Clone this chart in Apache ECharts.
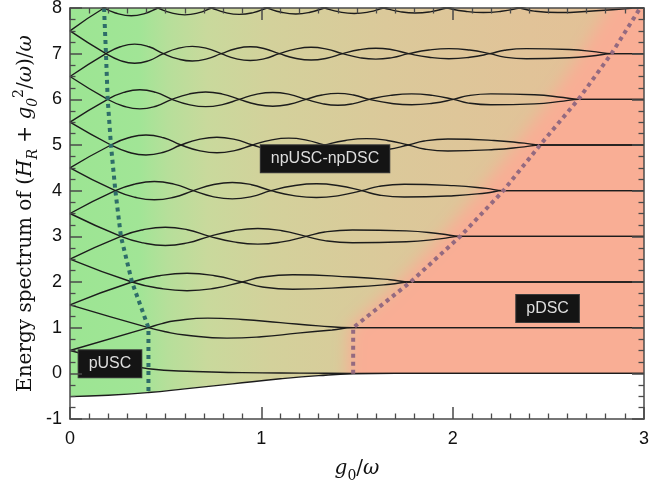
<!DOCTYPE html>
<html>
<head>
<meta charset="utf-8">
<script src="https://cdn.jsdelivr.net/npm/echarts@6/dist/echarts.min.js"></script>
<style>
html, body { margin: 0; padding: 0; background: #fff; }
#main { width: 671px; height: 487px; }
</style>
</head>
<body>
<div id="main"></div>
<script>
// energy levels, points are [g0/ω, E/ω]
const ground = [[0, -0.51], [0.2, -0.48], [0.41, -0.42], [0.6, -0.34], [0.85, -0.23], [1.1, -0.12], [1.3, -0.05], [1.48, -0.01], [1.7, 0], [3, 0]]
const level0 = [[0, 0.5], [0.2, 0.29], [0.41, 0.1], [0.65, 0.04], [0.9, 0.015], [1.2, 0.004], [1.48, 0], [3, 0]]

const level1a = [[0, 1.5], [0.41, 1], [0.5, 0.91], [0.6, 0.84], [0.82, 0.77], [1.0, 0.8], [1.19, 0.88], [1.37, 0.95], [1.48, 1], [3, 1]]
const level1b = [[0, 0.5], [0.41, 1], [0.48, 1.09], [0.55, 1.15], [0.72, 1.21], [0.9, 1.18], [1.1, 1.11], [1.3, 1.04], [1.48, 1], [3, 1]]

const level2a = [[0, 2.5], [0.324, 2], [0.468, 1.863], [0.612, 1.81], [0.756, 1.863], [0.9, 2], [1.006, 2.11], [1.164, 2.16], [1.472, 2.11], [1.674, 2.05], [1.78, 2], [3, 2]]
const level2b = [[0, 1.5], [0.324, 2], [0.468, 2.137], [0.612, 2.19], [0.756, 2.137], [0.9, 2], [1.006, 1.89], [1.164, 1.84], [1.472, 1.89], [1.674, 1.95], [1.78, 2], [3, 2]]

const level3a = [[0, 3.5], [0.266, 3], [0.382, 2.856], [0.498, 2.8], [0.614, 2.856], [0.73, 3], [0.856, 3.122], [0.982, 3.17], [1.108, 3.122], [1.234, 3], [1.331, 2.905], [1.476, 2.86], [1.758, 2.88], [1.943, 2.95], [2.04, 3], [3, 3]]
const level3b = [[0, 2.5], [0.266, 3], [0.382, 3.144], [0.498, 3.2], [0.614, 3.144], [0.73, 3], [0.856, 2.878], [0.982, 2.83], [1.108, 2.878], [1.234, 3], [1.331, 3.095], [1.476, 3.14], [1.758, 3.12], [1.943, 3.05], [2.04, 3], [3, 3]]

const level4a = [[0, 4.5], [0.237, 4], [0.339, 3.856], [0.441, 3.8], [0.543, 3.856], [0.645, 4], [0.746, 4.13], [0.848, 4.18], [0.949, 4.13], [1.05, 4], [1.169, 3.892], [1.288, 3.85], [1.406, 3.892], [1.525, 4], [1.614, 4.095], [1.747, 4.14], [2.006, 4.11], [2.176, 4.05], [2.265, 4], [3, 4]]
const level4b = [[0, 3.5], [0.237, 4], [0.339, 4.144], [0.441, 4.2], [0.543, 4.144], [0.645, 4], [0.746, 3.87], [0.848, 3.82], [0.949, 3.87], [1.05, 4], [1.169, 4.108], [1.288, 4.15], [1.406, 4.108], [1.525, 4], [1.614, 3.905], [1.747, 3.86], [2.006, 3.89], [2.176, 3.95], [2.265, 4], [3, 4]]

const level5a = [[0, 5.5], [0.214, 5], [0.306, 4.842], [0.397, 4.78], [0.489, 4.842], [0.58, 5], [0.674, 5.122], [0.768, 5.17], [0.861, 5.122], [0.955, 5], [1.049, 4.892], [1.143, 4.85], [1.236, 4.892], [1.33, 5], [1.44, 5.1], [1.549, 5.14], [1.659, 5.1], [1.768, 5], [1.851, 4.912], [1.975, 4.87], [2.216, 4.9], [2.374, 4.96], [2.457, 5], [3, 5]]
const level5b = [[0, 4.5], [0.214, 5], [0.306, 5.158], [0.397, 5.22], [0.489, 5.158], [0.58, 5], [0.674, 4.878], [0.768, 4.83], [0.861, 4.878], [0.955, 5], [1.049, 5.108], [1.143, 5.15], [1.236, 5.108], [1.33, 5], [1.44, 4.9], [1.549, 4.86], [1.659, 4.9], [1.768, 5], [1.851, 5.088], [1.975, 5.13], [2.216, 5.1], [2.374, 5.04], [2.457, 5], [3, 5]]

const level6a = [[0, 6.5], [0.197, 6], [0.281, 5.849], [0.365, 5.79], [0.449, 5.849], [0.533, 6], [0.621, 6.115], [0.709, 6.16], [0.797, 6.115], [0.885, 6], [0.972, 5.892], [1.06, 5.85], [1.147, 5.892], [1.234, 6], [1.317, 6.094], [1.4, 6.13], [1.482, 6.094], [1.565, 6], [1.675, 5.914], [1.785, 5.88], [1.895, 5.914], [2.004, 6], [2.082, 6.082], [2.2, 6.12], [2.428, 6.1], [2.579, 6.04], [2.657, 6], [3, 6]]
const level6b = [[0, 5.5], [0.197, 6], [0.281, 6.151], [0.365, 6.21], [0.449, 6.151], [0.533, 6], [0.621, 5.885], [0.709, 5.84], [0.797, 5.885], [0.885, 6], [0.972, 6.108], [1.06, 6.15], [1.147, 6.108], [1.234, 6], [1.317, 5.906], [1.4, 5.87], [1.482, 5.906], [1.565, 6], [1.675, 6.086], [1.785, 6.12], [1.895, 6.086], [2.004, 6], [2.082, 5.918], [2.2, 5.88], [2.428, 5.9], [2.579, 5.96], [2.657, 6], [3, 6]]

const level7a = [[0, 7.5], [0.188, 7], [0.263, 6.849], [0.338, 6.79], [0.413, 6.849], [0.488, 7], [0.564, 7.115], [0.639, 7.16], [0.715, 7.115], [0.79, 7], [0.866, 6.892], [0.942, 6.85], [1.018, 6.892], [1.094, 7], [1.177, 7.1], [1.26, 7.14], [1.342, 7.1], [1.425, 7], [1.511, 6.914], [1.598, 6.88], [1.684, 6.914], [1.77, 7], [1.876, 7.079], [1.98, 7.11], [2.089, 7.079], [2.195, 7], [2.271, 6.925], [2.385, 6.89], [2.61, 6.91], [2.75, 6.96], [2.83, 7], [3, 7]]
const level7b = [[0, 6.5], [0.188, 7], [0.263, 7.151], [0.338, 7.21], [0.413, 7.151], [0.488, 7], [0.564, 6.885], [0.639, 6.84], [0.715, 6.885], [0.79, 7], [0.866, 7.108], [0.942, 7.15], [1.018, 7.108], [1.094, 7], [1.177, 6.9], [1.26, 6.86], [1.342, 6.9], [1.425, 7], [1.511, 7.086], [1.598, 7.12], [1.684, 7.086], [1.77, 7], [1.876, 6.921], [1.98, 6.89], [2.089, 6.921], [2.195, 7], [2.271, 7.075], [2.385, 7.11], [2.61, 7.09], [2.75, 7.04], [2.83, 7], [3, 7]]

const level8a = [[0, 8.5], [0.178, 8], [0.249, 7.878], [0.32, 7.83], [0.39, 7.878], [0.46, 8], [0.53, 8.108], [0.6, 8.15], [0.67, 8.108], [0.74, 8], [0.813, 7.899], [0.885, 7.86], [0.958, 7.899], [1.03, 8], [1.105, 8.094], [1.18, 8.13], [1.255, 8.094], [1.33, 8], [1.408, 7.914], [1.485, 7.88], [1.563, 7.914], [1.64, 8], [1.723, 8.079], [1.805, 8.11], [1.888, 8.079], [1.97, 8], [2.065, 7.928], [2.16, 7.9], [2.255, 7.928], [2.35, 8], [2.426, 8.068], [2.55, 8.1], [2.75, 8.06], [2.9, 8.02], [2.98, 8], [3, 8]]
const level8b = [[0, 7.5], [0.178, 8], [0.249, 8.122], [0.32, 8.17], [0.39, 8.122], [0.46, 8], [0.53, 7.892], [0.6, 7.85], [0.67, 7.892], [0.74, 8], [0.813, 8.101], [0.885, 8.14], [0.958, 8.101], [1.03, 8], [1.105, 7.906], [1.18, 7.87], [1.255, 7.906], [1.33, 8], [1.408, 8.086], [1.485, 8.12], [1.563, 8.086], [1.64, 8], [1.723, 7.921], [1.805, 7.89], [1.888, 7.921], [1.97, 8], [2.065, 8.072], [2.16, 8.1], [2.255, 8.072], [2.35, 8], [2.426, 7.932], [2.55, 7.9], [2.75, 7.94], [2.9, 7.98], [2.98, 8], [3, 8]]

// phase borders (dotted) and the edge of the pDSC shading
const uscBorder = [[0.178, 8], [0.188, 7], [0.197, 6], [0.214, 5], [0.237, 4], [0.266, 3], [0.324, 2], [0.41, 1], [0.41, -0.42]]
const dscBorder = [[1.48, -0.01], [1.48, 1], [1.78, 2], [2.04, 3], [2.265, 4], [2.457, 5], [2.657, 6], [2.83, 7], [2.98, 8]]
const dscShade = [[1.45, -1.6], [1.45, 0], [1.46, 1], [1.72, 2], [1.94, 3], [2.14, 4], [2.33, 5], [2.51, 6], [2.67, 7], [2.81, 8], [2.93, 8.8], [3.6, 8.8], [3.6, -1.6]]

// region tags
const tags = [[0.209, 0.21, 'pUSC'], [1.333, 4.70, 'npUSC-npDSC'], [2.496, 1.42, 'pDSC']]

const levels = [level0, level1a, level1b, level2a, level2b, level3a, level3b, level4a, level4b,
  level5a, level5b, level6a, level6b, level7a, level7b, level8a, level8b]

const salmon = '#f9ae95'
const axisColor = '#4a4a4a'

let myChart = echarts.init(document.getElementById('main'), null, { renderer: 'canvas' })

function frameAxis(pos, isX) {
  return {
    type: 'value',
    position: pos,
    min: isX ? 0 : -1,
    max: isX ? 3 : 8,
    interval: 1,
    z: 10,
    axisLine: { show: true, onZero: false, lineStyle: { color: axisColor, width: 1.5 } },
    axisTick: { show: true, inside: true, length: 12, lineStyle: { color: axisColor, width: 1.5 } },
    minorTick: { show: true, splitNumber: isX ? 10 : 4, length: 5.5, lineStyle: { color: axisColor, width: 1.3 } },
    splitLine: { show: false },
    minorSplitLine: { show: false },
    axisLabel: { show: false }
  }
}

let xBottom = frameAxis('bottom', true)
xBottom.axisLabel = { show: true, fontFamily: 'Liberation Sans', fontSize: 18, color: '#111', margin: 11 }
xBottom.name = '{i|g}{s|0}/{i|ω}'
xBottom.nameLocation = 'middle'
xBottom.nameGap = 36
xBottom.nameMoveOverlap = false
xBottom.nameTextStyle = {
  fontFamily: 'DejaVu Serif', fontSize: 20, color: '#111', lineHeight: 28,
  rich: {
    i: { fontFamily: 'DejaVu Serif', fontStyle: 'italic', fontSize: 20, lineHeight: 28, color: '#111' },
    s: { fontFamily: 'DejaVu Serif', fontSize: 14, lineHeight: 14, verticalAlign: 'bottom', color: '#111' }
  }
}

let yLeft = frameAxis('left', false)
yLeft.axisLabel = { show: true, fontFamily: 'Liberation Sans', fontSize: 18, color: '#111', margin: 8 }
yLeft.name = 'Energy spectrum of ({i|H}{s|R} + {i|g}{s|0}{p|2}/{i|ω})/{i|ω}'
yLeft.nameLocation = 'middle'
yLeft.nameGap = 30
yLeft.nameMoveOverlap = false
yLeft.nameTextStyle = {
  fontFamily: 'DejaVu Serif', fontSize: 20, color: '#111', lineHeight: 28,
  rich: {
    i: { fontFamily: 'DejaVu Serif', fontStyle: 'italic', fontSize: 20, lineHeight: 28, color: '#111' },
    s: { fontFamily: 'DejaVu Serif', fontStyle: 'italic', fontSize: 14, lineHeight: 14, verticalAlign: 'bottom', color: '#111' },
    p: { fontFamily: 'DejaVu Serif', fontSize: 14, lineHeight: 14, verticalAlign: 'top', color: '#111' }
  }
}

// background: green -> tan gradient, blurred salmon wedge (shadow of an off-screen polygon)
function drawBackground(params, api) {
  const cs = params.coordSys
  const shift = 2000
  const pts = dscShade.map(p => {
    const c = api.coord(p)
    return [c[0] + shift, c[1]]
  })
  return {
    type: 'group',
    children: [{
      type: 'rect',
      shape: { x: cs.x, y: cs.y, width: cs.width, height: cs.height },
      style: {
        fill: new echarts.graphic.LinearGradient(0, 0, 1, 0, [
          { offset: 0, color: '#9ce593' },
          { offset: 0.12, color: '#a1e596' },
          { offset: 0.17, color: '#b6df9a' },
          { offset: 0.24, color: '#c9d99c' },
          { offset: 0.35, color: '#d3d19b' },
          { offset: 0.55, color: '#dbc99a' },
          { offset: 0.8, color: '#e1c398' },
          { offset: 1, color: '#e4c096' }
        ])
      }
    }, {
      type: 'polygon',
      shape: { points: pts },
      style: { fill: salmon, shadowColor: salmon, shadowBlur: 16, shadowOffsetX: -shift, shadowOffsetY: 0 }
    }]
  }
}

let series = [{
  type: 'custom',
  silent: true,
  clip: true,
  z: 1,
  data: [[0, 0]],
  renderItem: drawBackground
}, {
  type: 'line',
  data: ground,
  smooth: 0.5,
  symbol: 'none',
  silent: true,
  z: 3,
  lineStyle: { color: '#1c1c1c', width: 1.4 },
  areaStyle: { color: '#fff', opacity: 1, origin: 'start' }
}]

levels.forEach(d => {
  series.push({
    type: 'line',
    data: d,
    smooth: 0.5,
    symbol: 'none',
    silent: true,
    z: 4,
    lineStyle: { color: '#1c1c1c', width: 1.4 }
  })
})

series.push({
  type: 'line', data: uscBorder, symbol: 'none', silent: true, z: 5,
  lineStyle: { color: '#2e6d69', width: 4, type: [4, 4], cap: 'butt' }
}, {
  type: 'line', data: dscBorder, symbol: 'none', silent: true, z: 5,
  lineStyle: { color: '#946a80', width: 4, type: [4, 4], cap: 'butt' }
}, {
  type: 'scatter',
  silent: true,
  z: 6,
  symbolSize: 1,
  itemStyle: { color: 'transparent', opacity: 1 },
  data: tags.map(t => ({ value: [t[0], t[1]], name: t[2] })),
  label: {
    show: true,
    position: 'inside',
    formatter: '{b}',
    fontFamily: 'Liberation Sans',
    fontSize: 16,
    color: '#dedede',
    backgroundColor: '#141414',
    borderColor: '#3a3a3a',
    borderWidth: 1,
    padding: [6, 10, 5, 10]
  }
})

myChart.setOption({
  animation: false,
  backgroundColor: '#fff',
  grid: { left: 70, right: 27, top: 8, bottom: 68, containLabel: false, outerBoundsMode: 'none' },
  xAxis: [xBottom, frameAxis('top', true)],
  yAxis: [yLeft, frameAxis('right', false)],
  series: series
})
</script>
</body>
</html>
